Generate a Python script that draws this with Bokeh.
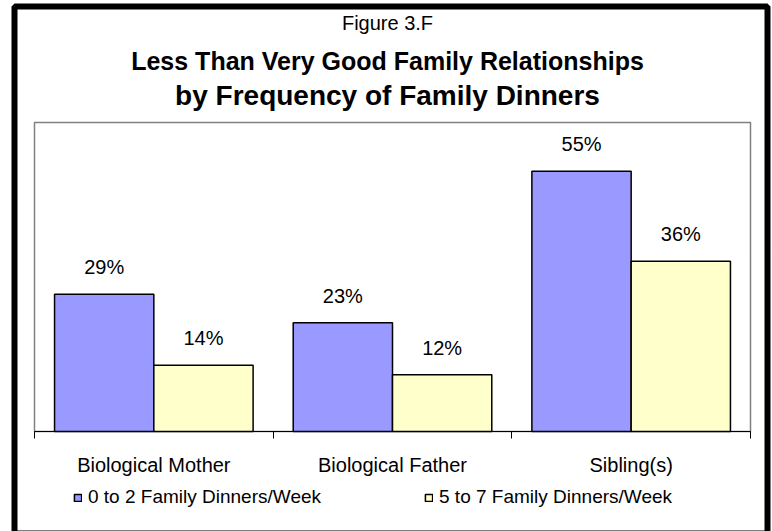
import numpy as np
from bokeh.plotting import figure
from bokeh.models import (ColumnDataSource, FixedTicker, Range1d, Legend,
                          LegendItem, BoxAnnotation, Label)
from bokeh.core.properties import value
from bokeh.embed import file_html
from bokeh.resources import INLINE

# ---- data ----
categories = ["Biological Mother", "Biological Father", "Sibling(s)"]
low_freq = [29, 23, 55]     # 0 to 2 Family Dinners/Week
high_freq = [14, 12, 36]    # 5 to 7 Family Dinners/Week
series_names = ["0 to 2 Family Dinners/Week", "5 to 7 Family Dinners/Week"]
title_lines = ["Figure 3.F", "Less Than Very Good Family Relationships",
               "by Frequency of Family Dinners"]

FONT = "Liberation Sans"
BLUE = "#9999FF"
YELLOW = "#FFFFCC"
BAR_W = 0.416
Y_BOX = 65.3              # value axis maximum (top of plot area)

# ---- layout (pixels) ----
W, H = 772, 531
BOX_L, BOX_R, BOX_T, BOX_B = 34, 750, 122, 431   # plot-area box on the canvas
ncat = len(categories)
ppx = (BOX_R - BOX_L) / ncat
ppy = (BOX_B - BOX_T) / Y_BOX
x_range = Range1d(-BOX_L / ppx, ncat + (W - BOX_R) / ppx)
y_range = Range1d(-(H - BOX_B) / ppy, BOX_B / ppy)

centers = np.arange(ncat) + 0.5
src_lo = ColumnDataSource(dict(x=centers - BAR_W / 2, top=low_freq,
                               lab=[f"{v}%" for v in low_freq]))
src_hi = ColumnDataSource(dict(x=centers + BAR_W / 2, top=high_freq,
                               lab=[f"{v}%" for v in high_freq]))

p = figure(width=W, height=H, output_backend="svg", toolbar_location=None,
           x_range=x_range, y_range=y_range, min_border=0)
p.min_border_left = p.min_border_right = p.min_border_top = p.min_border_bottom = 0
p.background_fill_color = "white"
p.border_fill_color = "white"
p.outline_line_color = None
p.xgrid.visible = False
p.ygrid.visible = False
p.yaxis.visible = False

# plot-area box
p.add_layout(BoxAnnotation(left=0, right=ncat, bottom=0, top=Y_BOX,
                           fill_alpha=0, fill_color=None, line_color="#808080",
                           line_alpha=1.0, line_width=1.5, level="underlay"))

r_lo = p.vbar(x="x", top="top", width=BAR_W, bottom=0, source=src_lo,
              fill_color=BLUE, line_color="black", line_width=1.5)
r_hi = p.vbar(x="x", top="top", width=BAR_W, bottom=0, source=src_hi,
              fill_color=YELLOW, line_color="black", line_width=1.5)

for s in (src_lo, src_hi):
    p.text(x="x", y="top", text="lab", source=s, text_align="center",
           text_baseline="middle", y_offset=-27, text_font=value(FONT),
           text_font_size="20px", text_color="black")

ax = p.xaxis[0]
ax.fixed_location = 0
ax.bounds = (0, ncat)
ax.ticker = FixedTicker(ticks=list(centers), minor_ticks=list(range(ncat + 1)))
ax.major_label_overrides = {float(c): cat for c, cat in zip(centers, categories)}
ax.major_tick_line_color = None
ax.major_tick_out = 0
ax.major_tick_in = 0
ax.minor_tick_line_color = "black"
ax.minor_tick_out = 7
ax.minor_tick_in = 0
ax.axis_line_color = "black"
ax.axis_line_width = 1
ax.major_label_standoff = 15
ax.major_label_text_font = FONT
ax.major_label_text_font_size = "20px"
ax.major_label_text_color = "black"

legend = Legend(items=[LegendItem(label=series_names[0], renderers=[r_lo]),
                       LegendItem(label=series_names[1], renderers=[r_hi])],
                orientation="horizontal", location=(73, 22),
                glyph_width=9, glyph_height=9, label_standoff=6, spacing=103,
                margin=0, padding=8, border_line_color=None,
                background_fill_alpha=0, label_text_font=FONT,
                label_text_font_size="19px", label_text_color="black",
                label_height=24)
p.add_layout(legend, "center")

# outer chart-area border (screen units, canvas bottom-left origin)
p.add_layout(BoxAnnotation(left=14, right=767, bottom=-2, top=H - 6,
                           left_units="screen", right_units="screen",
                           top_units="screen", bottom_units="screen",
                           fill_alpha=0, fill_color=None,
                           line_color="black", line_alpha=1.0, line_width=6))

# titles
title_specs = [(title_lines[0], 22, "20px", "normal"),
               (title_lines[1], 60, "25px", "bold"),
               (title_lines[2], 95, "28px", "bold")]
for txt, yc, size, style in title_specs:
    p.add_layout(Label(x=387, y=H - yc, x_units="screen", y_units="screen",
                       text=txt, text_align="center", text_baseline="middle",
                       text_font=FONT, text_font_size=size,
                       text_font_style=style, text_color="black"))

open("out.html", "w").write(file_html(p, INLINE))
